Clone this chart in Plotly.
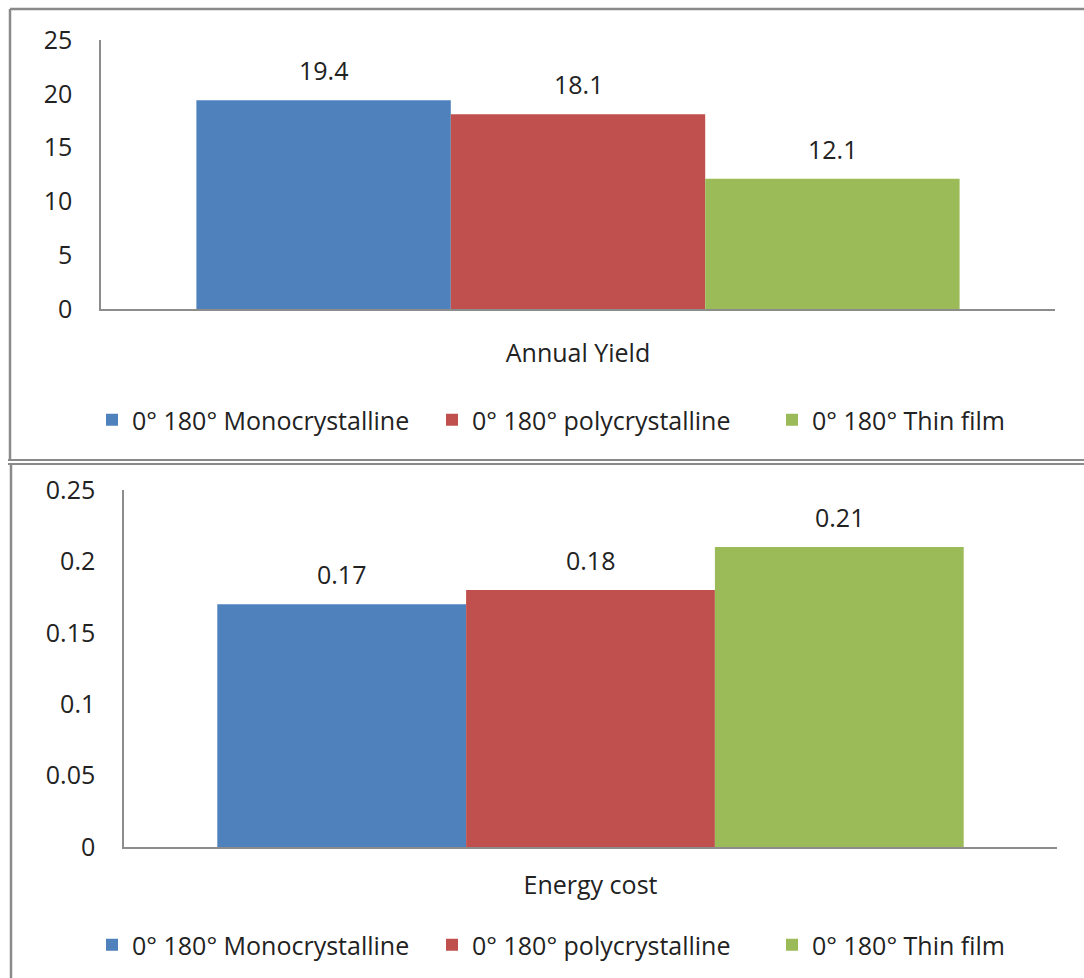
import plotly.graph_objects as go

# Panel data
series_names = ["0° 180° Monocrystalline", "0° 180° polycrystalline", "0° 180° Thin film"]
series_colors = ["#4F81BD", "#C0504D", "#9BBB59"]

yield_category = ["Annual Yield"]
yield_values = [19.4, 18.1, 12.1]
yield_ticks = [0, 5, 10, 15, 20, 25]

cost_category = ["Energy cost"]
cost_values = [0.17, 0.18, 0.21]
cost_ticks = [0, 0.05, 0.1, 0.15, 0.2, 0.25]
cost_tick_text = ["0", "0.05", "0.1", "0.15", "0.2", "0.25"]

W, H = 1084, 978
FONT = "Open Sans"
FS = 25
TEXT = "#222222"
AXIS = "#8c8c8c"
FRAME = "#8a8a8a"
BARGAP = 0.2


def px(x):
    return x / W


def py(y):
    return 1 - y / H


fig = go.Figure()

for i, (name, color) in enumerate(zip(series_names, series_colors)):
    fig.add_trace(go.Bar(
        x=yield_category, y=[yield_values[i]], name=name,
        marker=dict(color=color, line=dict(width=0)),
        xaxis="x", yaxis="y", legend="legend",
    ))
    fig.add_trace(go.Bar(
        x=cost_category, y=[cost_values[i]], name=name,
        marker=dict(color=color, line=dict(width=0)),
        xaxis="x2", yaxis="y2", legend="legend2",
    ))

# value labels above each bar
n = len(series_names)
bw = (1 - BARGAP) / n
for i in range(n):
    off = (i - (n - 1) / 2) * bw
    fig.add_annotation(x=off, y=yield_values[i], xref="x", yref="y",
                       text=f"{yield_values[i]}", showarrow=False,
                       yanchor="bottom", yshift=11,
                       font=dict(family=FONT, size=FS, color=TEXT))
    fig.add_annotation(x=off, y=cost_values[i], xref="x2", yref="y2",
                       text=f"{cost_values[i]}", showarrow=False,
                       yanchor="bottom", yshift=11,
                       font=dict(family=FONT, size=FS, color=TEXT))

axis_common = dict(showgrid=False, zeroline=False, linecolor=AXIS, linewidth=1.5,
                   automargin=False, showline=True, ticks="",
                   tickfont=dict(family=FONT, size=FS, color=TEXT))

legend_common = dict(orientation="h", xanchor="left", yanchor="middle",
                     font=dict(family=FONT, size=FS, color=TEXT),
                     bgcolor="rgba(0,0,0,0)", traceorder="normal",
                     entrywidth=295, entrywidthmode="pixels")

fig.update_layout(
    width=W, height=H,
    margin=dict(l=0, r=0, t=0, b=0, pad=0, autoexpand=False),
    paper_bgcolor="white", plot_bgcolor="white",
    barmode="group", bargap=BARGAP, bargroupgap=0,
    font=dict(family=FONT, color=TEXT),
    xaxis=dict(domain=[px(101), px(1055)], anchor="y",
               ticklabelstandoff=21, **axis_common),
    yaxis=dict(domain=[py(309), py(40)], anchor="x", range=[0, 25],
               tickvals=yield_ticks, ticklabelstandoff=22, **axis_common),
    xaxis2=dict(domain=[px(124), px(1057)], anchor="y2",
                ticklabelstandoff=15, **axis_common),
    yaxis2=dict(domain=[py(847), py(490)], anchor="x2", range=[0, 0.25],
                tickvals=cost_ticks, ticktext=cost_tick_text,
                ticklabelstandoff=22, **axis_common),
    legend=dict(x=px(92), y=py(420), **legend_common),
    legend2=dict(x=px(92), y=py(945), **legend_common),
    shapes=[
        # outer frame of the upper panel
        dict(type="line", xref="paper", yref="paper", x0=px(10), x1=1, y0=py(9), y1=py(9),
             line=dict(color=FRAME, width=2.5)),
        dict(type="line", xref="paper", yref="paper", x0=px(10), x1=px(10), y0=py(9), y1=py(460),
             line=dict(color=FRAME, width=2.5)),
        dict(type="line", xref="paper", yref="paper", x0=px(8), x1=1, y0=py(460), y1=py(460),
             line=dict(color=FRAME, width=2)),
        # frame of the lower panel
        dict(type="line", xref="paper", yref="paper", x0=px(8), x1=1, y0=py(464), y1=py(464),
             line=dict(color=FRAME, width=2)),
        dict(type="line", xref="paper", yref="paper", x0=px(11), x1=px(11), y0=py(464), y1=0,
             line=dict(color=FRAME, width=2.5)),
    ],
)

fig.write_html("out.html")
